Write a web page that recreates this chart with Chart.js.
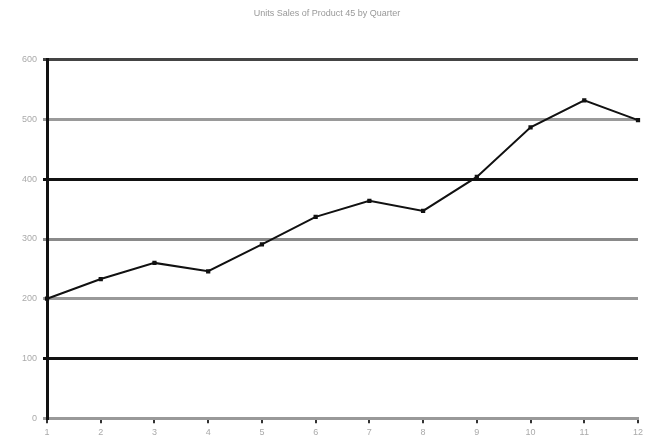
<!DOCTYPE html>
<html>
<head>
<meta charset="utf-8">
<script src="https://cdn.jsdelivr.net/npm/chart.js@4"></script>
<style>
  html, body { margin: 0; padding: 0; background: #fff; }
  #wrap { width: 652px; height: 444px; }
</style>
</head>
<body>
<div id="wrap"><canvas id="chart" width="652" height="444"></canvas></div>
<script>
// data
const quarters = ['1', '2', '3', '4', '5', '6', '7', '8', '9', '10', '11', '12'];
const unitSales = [200, 233, 260, 246, 291, 337, 364, 347, 404, 487, 532, 499];
const yTicks = [0, 100, 200, 300, 400, 500, 600];

// gridline shades alternate in the picture
const gridShade = { 0: '#9a9a9a', 100: '#111', 200: '#999', 300: '#8a8a8a', 400: '#111', 500: '#9a9a9a', 600: '#444' };

const ctx = document.getElementById('chart').getContext('2d');

new Chart(ctx, {
  type: 'line',
  data: {
    labels: quarters,
    datasets: [{
      label: 'Units',
      data: unitSales,
      borderColor: '#111',
      borderWidth: 2,
      backgroundColor: '#111',
      pointStyle: 'rect',
      pointRadius: 3,
      pointBackgroundColor: '#111',
      pointBorderWidth: 0,
      tension: 0,
      fill: false,
    }],
  },
  options: {
    responsive: false,
    animation: false,
    layout: { padding: { left: 16, right: 14, top: 4, bottom: 2 } },
    plugins: {
      legend: { display: false },
      tooltip: { enabled: false },
      title: {
        display: true,
        text: 'Units Sales of Product 45 by Quarter',
        color: '#999',
        font: { family: 'Liberation Sans, Arial, sans-serif', size: 9, weight: 'normal' },
        padding: { top: 4, bottom: 41 },
      },
    },
    scales: {
      x: {
        type: 'category',
        offset: false,
        border: { display: true, color: '#999', width: 3 },
        grid: { drawOnChartArea: false, drawTicks: true, tickLength: 5, color: '#333', lineWidth: 2 },
        ticks: {
          color: '#aaa',
          padding: 4,
          maxRotation: 0,
          font: { family: 'Liberation Sans, Arial, sans-serif', size: 9 },
        },
      },
      y: {
        min: 0,
        max: 600,
        afterBuildTicks: (axis) => { axis.ticks = yTicks.map(v => ({ value: v })); },
        border: { display: true, color: '#111', width: 3 },
        grid: {
          color: (c) => gridShade[c.tick.value] || '#999',
          lineWidth: 3,
          tickLength: 4,
        },
        ticks: {
          color: '#aaa',
          padding: 6,
          font: { family: 'Liberation Sans, Arial, sans-serif', size: 9 },
        },
      },
    },
  },
});
</script>
</body>
</html>
